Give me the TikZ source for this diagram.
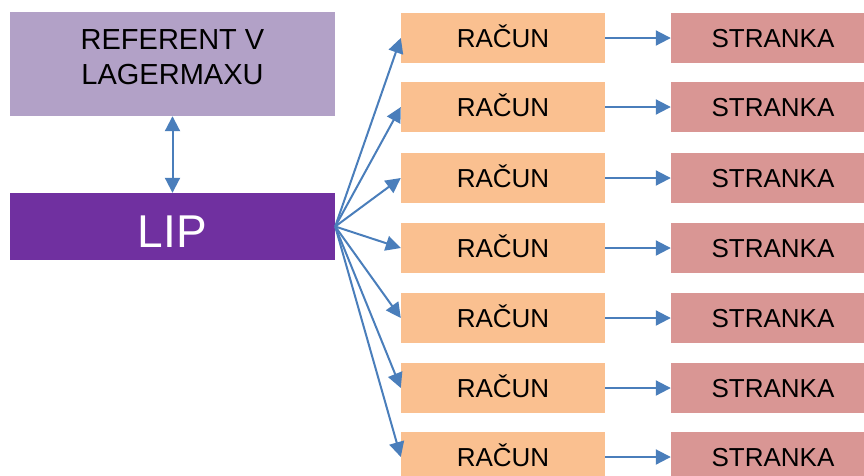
\documentclass[tikz,border=0pt]{standalone}
\usepackage{fontspec}
\setmainfont{Liberation Sans}
\usetikzlibrary{arrows.meta}
\definecolor{refcol}{HTML}{B2A1C7}
\definecolor{lipcol}{HTML}{7030A0}
\definecolor{raccol}{HTML}{FAC090}
\definecolor{strcol}{HTML}{D99694}
\definecolor{linkcol}{HTML}{4A7EBB}
\tikzset{
  box/.style={inner sep=0pt, minimum height=50pt, minimum width=204pt, align=center},
  small/.style={font=\fontsize{26}{30}\selectfont, text height=18.6pt, text depth=0pt},
  racun/.style={box, small, fill=raccol},
  stranka/.style={box, small, fill=strcol},
  link/.style={draw=linkcol, line width=2pt, -{Triangle[length=15pt,width=15pt]}},
  dlink/.style={draw=linkcol, line width=2pt, {Triangle[length=15pt,width=15pt]}-{Triangle[length=15pt,width=15pt]}}
}
\begin{document}
\begin{tikzpicture}[x=1pt,y=-1pt]
\useasboundingbox (0,0) rectangle (864,475);
\clip (0,0) rectangle (864,475);
\node[box, fill=refcol, minimum width=325pt, minimum height=104pt,
      font=\fontsize{29}{35}\selectfont, text height=55.8pt, text depth=15pt]
      (ref) at (172.5,64) {REFERENT V\\LAGERMAXU};
\node[box, fill=lipcol, minimum width=325pt, minimum height=67pt, text=white,
      font=\fontsize{46}{50}\selectfont, text height=41pt, text depth=0pt]
      (lip) at (172.5,226.5) {LIP};
\draw[dlink] (ref.south) -- (lip.north);
\foreach \i/\y in {1/38,2/107,3/178,4/248,5/318,6/388,7/457}{
  \node[racun] (r\i) at (503,\y) {RAČUN};
  \node[stranka] (s\i) at (773,\y) {STRANKA};
  \draw[link] (lip.east) -- (r\i.west);
  \draw[link] (r\i.east) -- (s\i.west);
}
\end{tikzpicture}
\end{document}
